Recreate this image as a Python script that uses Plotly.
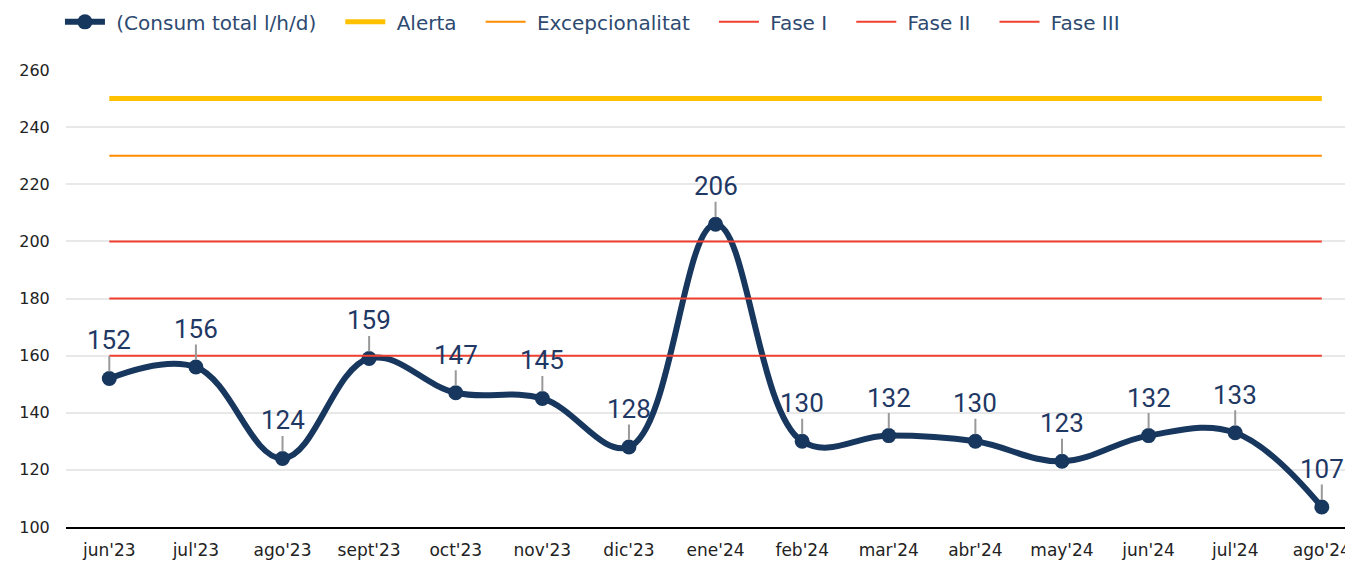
import plotly.graph_objects as go

categories = ["jun'23", "jul'23", "ago'23", "sept'23", "oct'23", "nov'23", "dic'23",
              "ene'24", "feb'24", "mar'24", "abr'24", "may'24", "jun'24", "jul'24", "ago'24"]
consum = [152, 156, 124, 159, 147, 145, 128, 206, 130, 132, 130, 123, 132, 133, 107]
alerta = 250
excepcionalitat = 230
fase_1 = 200
fase_2 = 180
fase_3 = 160

n = len(categories)
xs = list(range(n))
NB = "\u00a0"

fig = go.Figure()

fig.add_trace(go.Scatter(
    x=xs, y=consum, mode="lines+markers", name=NB + "(Consum total l/h/d)" + NB * 3,
    line=dict(color="#17375E", width=6, shape="spline", smoothing=1.1),
    marker=dict(size=15, color="#17375E"),
))
thresholds = [
    ("Alerta", alerta, "#FFC000", 5),
    ("Excepcionalitat", excepcionalitat, "#FF8C00", 2),
    ("Fase I", fase_1, "#F04030", 2),
    ("Fase II", fase_2, "#F04030", 2),
    ("Fase III", fase_3, "#F04030", 2),
]
for name, val, col, w in thresholds:
    fig.add_trace(go.Scatter(
        x=xs, y=[val] * n, mode="lines", name=NB + name + NB * 3,
        line=dict(color=col, width=w), hoverinfo="skip",
    ))

for i, v in enumerate(consum):
    fig.add_annotation(
        x=i, y=v, text=str(v), showarrow=True, arrowhead=0, arrowwidth=2,
        arrowcolor="#999999", ax=0, ay=-38, standoff=7,
        font=dict(family="Roboto", size=26, color="#1F3864"),
        borderpad=0,
    )

fig.update_layout(
    width=1345, height=553,
    margin=dict(l=58, r=0, t=62, b=34, autoexpand=False),
    paper_bgcolor="white", plot_bgcolor="white",
    font=dict(family="DejaVu Sans", color="#222222"),
    legend=dict(orientation="h", x=-0.0047, y=1.148, xanchor="left", yanchor="top",
                xref="paper", yref="paper",
                font=dict(family="DejaVu Sans", size=20, color="#2E4A70"),
                itemwidth=40, tracegroupgap=0),
    showlegend=True,
)
fig.update_xaxes(
    range=[-0.5, 14.36], tickmode="array", tickvals=xs, ticktext=categories,
    showgrid=False, showline=True, linecolor="black", linewidth=2,
    tickfont=dict(size=17, color="#222222"), zeroline=False, ticks="",
    ticklabelstandoff=7,
)
fig.update_yaxes(
    range=[100, 260], dtick=20, showgrid=True, gridcolor="#E8E8E8", gridwidth=2,
    tickfont=dict(size=16, color="#222222"), zeroline=False, showline=False,
    ticksuffix="   ",
)

fig.write_html("out.html")
